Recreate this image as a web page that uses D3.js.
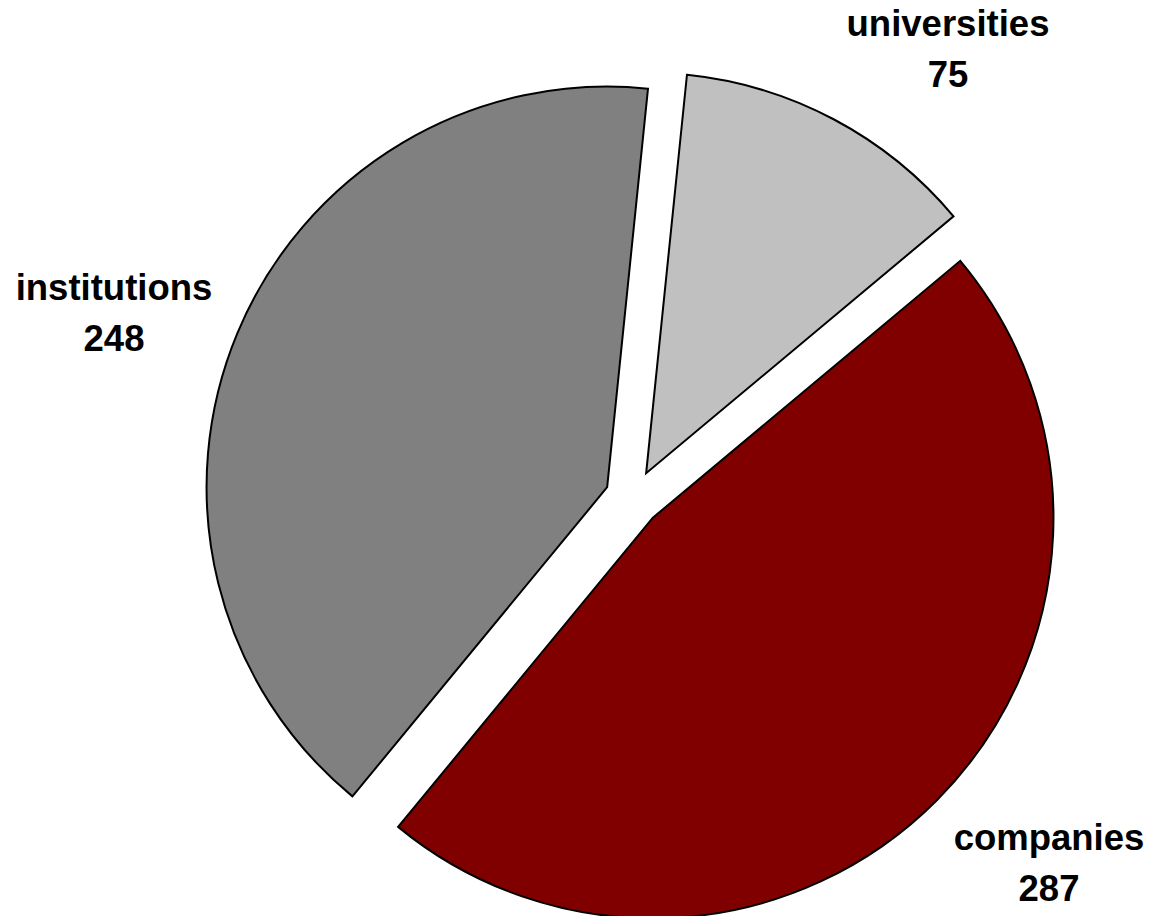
<!DOCTYPE html>
<html>
<head>
<meta charset="utf-8">
<script src="https://cdn.jsdelivr.net/npm/d3@7"></script>
<style>
  html, body { margin: 0; padding: 0; background: #fff; }
  svg { display: block; }
</style>
</head>
<body>
<svg id="chart" width="1153" height="916"></svg>
<script>
// ---- data ----
const categories = ["universities", "companies", "institutions"];
const values = [75, 287, 248];
const colors = ["#C0C0C0", "#800000", "#808080"];

// ---- layout ----
const W = 1153, H = 916;
const center = [633, 498];
const radius = 400.6;
const explode = 28;
const startDeg = 5.85;
const labelAnchors = [[948, 36], [1049, 850], [114, 300]]; // first-line baselines
const fontSize = 36.5;
const lineGap = 50.5;

const svg = d3.select("#chart");
const data = categories.map((c, i) => ({ name: c, value: values[i], color: colors[i] }));

const a0 = startDeg * Math.PI / 180;
const pie = d3.pie().value(d => d.value).sort(null)
  .startAngle(a0).endAngle(a0 + 2 * Math.PI);
const arc = d3.arc().innerRadius(0).outerRadius(radius);
const arcs = pie(data);

const g = svg.append("g").attr("transform", `translate(${center[0]},${center[1]})`);

g.selectAll("path.slice")
  .data(arcs)
  .join("path")
  .attr("class", "slice")
  .attr("transform", d => {
    const mid = (d.startAngle + d.endAngle) / 2;
    return `translate(${explode * Math.sin(mid)},${-explode * Math.cos(mid)})`;
  })
  .attr("d", arc)
  .attr("fill", d => d.data.color)
  .attr("stroke", "#000")
  .attr("stroke-width", 2)
  .attr("stroke-linejoin", "miter");

const labels = svg.selectAll("text.lbl")
  .data(arcs)
  .join("text")
  .attr("class", "lbl")
  .attr("text-anchor", "middle")
  .attr("font-family", "'Liberation Sans', Arial, sans-serif")
  .attr("font-weight", "bold")
  .attr("font-size", fontSize)
  .attr("fill", "#000");

labels.each(function(d, i) {
  const t = d3.select(this);
  const [x, y] = labelAnchors[i];
  t.append("tspan").attr("x", x).attr("y", y).text(d.data.name);
  t.append("tspan").attr("x", x).attr("y", y + lineGap).text(d.data.value);
});
</script>
</body>
</html>
